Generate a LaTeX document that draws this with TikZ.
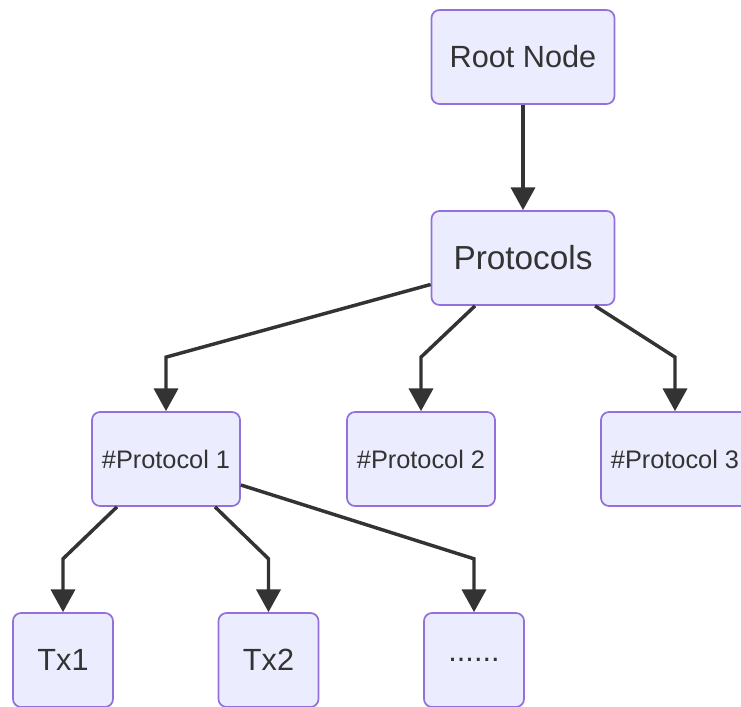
\documentclass[tikz,border=0pt]{standalone}
\usepackage{fontspec}
\setmainfont{Liberation Sans}
\usetikzlibrary{arrows.meta}
\definecolor{nodefill}{HTML}{ECECFF}
\definecolor{nodeline}{HTML}{9370DB}
\definecolor{linkcol}{HTML}{333333}

\begin{document}
\begin{tikzpicture}[x=0.75pt,y=-0.75pt,
    box/.style={rectangle,rounded corners=6pt,draw=nodeline,fill=nodefill,
      line width=1.3pt,minimum height=70.5pt,inner sep=0pt,text=linkcol},
    wide box/.style={box,minimum width=137.25pt,font=\fontsize{23}{27}\selectfont},
    proto box/.style={box,minimum width=111pt,font=\fontsize{19}{23}\selectfont},
    tx box/.style={box,minimum width=75pt,font=\fontsize{23}{27}\selectfont},
    link/.style={draw=linkcol,line width=2.6pt,-{Triangle[length=17pt,width=18pt]}}]
 \useasboundingbox (0,0) rectangle (741,706);
 \clip (0,0) rectangle (741,706);
 % top two levels
 \node[wide box] (root) at (523,57) {Root Node};
 \node[wide box,font=\fontsize{25}{29}\selectfont] (proto) at (523,258) {Protocols};
 % protocols
 \foreach \N/\X in {1/166,2/421,3/675}
  \node[proto box] (p-\N) at (\X,459) {\#Protocol \N};
 % transactions
 \node[tx box] (tx-1) at (63,660) {Tx1};
 \node[tx box] (tx-2) at (268.5,660) {Tx2};
 \node[tx box] (tx-more) at (474,660) {......};
 % links
 \draw[link] (root) -- (proto);
 \draw[link] (proto.196) -- ([yshift=40.5pt]p-1.north) -- (p-1);
 \draw[link] ([xshift=-36pt]proto.south) -- ([yshift=40.5pt]p-2.north) -- (p-2);
 \draw[link] ([xshift=54pt]proto.south) -- ([yshift=40.5pt]p-3.north) -- (p-3);
 \draw[link] ([xshift=-36.75pt]p-1.south) -- ([yshift=40pt]tx-1.north) -- (tx-1);
 \draw[link] ([xshift=36.75pt]p-1.south) -- ([yshift=40pt]tx-2.north) -- (tx-2);
 \draw[link] ([yshift=-19.5pt]p-1.east) -- ([yshift=40pt]tx-more.north) -- (tx-more);
\end{tikzpicture}
\end{document}
